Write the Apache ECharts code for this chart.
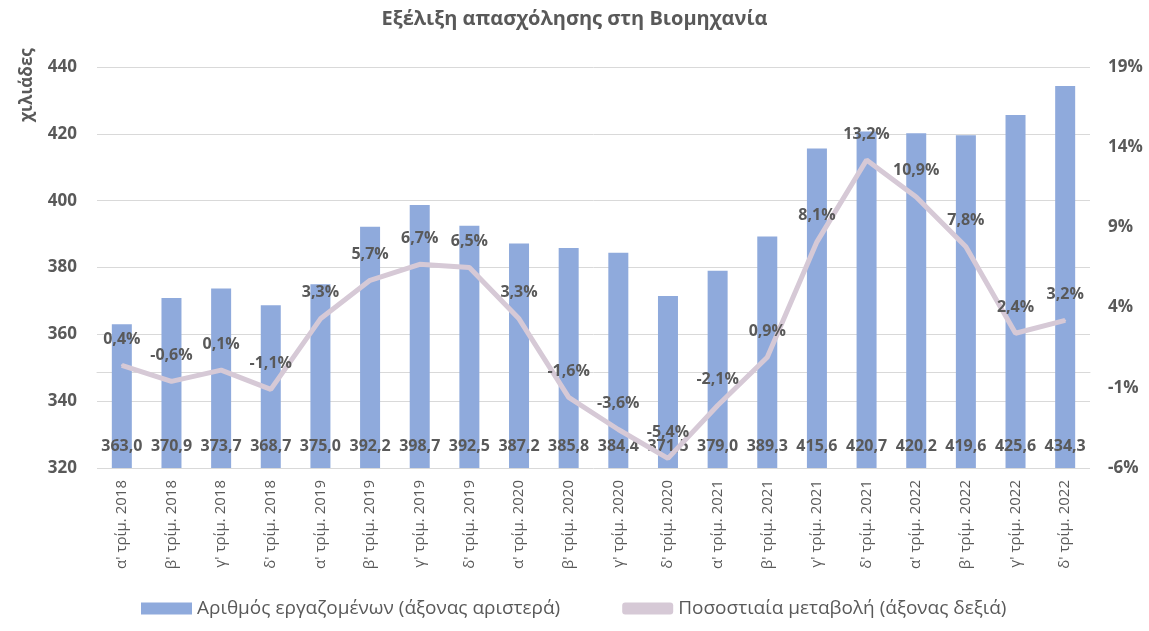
<!DOCTYPE html>
<html><head><meta charset="utf-8">
<script src="https://cdn.jsdelivr.net/npm/echarts@6/dist/echarts.min.js"></script>
<style>html,body{margin:0;padding:0;background:#fff}#c{width:1149px;height:631px}</style>
</head><body><div id="c"></div>
<script>
const categories = ["α' τρίμ. 2018","β' τρίμ. 2018","γ' τρίμ. 2018","δ' τρίμ. 2018","α' τρίμ. 2019","β' τρίμ. 2019","γ' τρίμ. 2019","δ' τρίμ. 2019","α' τρίμ. 2020","β' τρίμ. 2020","γ' τρίμ. 2020","δ' τρίμ. 2020","α' τρίμ. 2021","β' τρίμ. 2021","γ' τρίμ. 2021","δ' τρίμ. 2021","α' τρίμ. 2022","β' τρίμ. 2022","γ' τρίμ. 2022","δ' τρίμ. 2022"];
const employed = [363.0,370.9,373.7,368.7,375.0,392.2,398.7,392.5,387.2,385.8,384.4,371.5,379.0,389.3,415.6,420.7,420.2,419.6,425.6,434.3];
const changePct = [0.4,-0.6,0.1,-1.1,3.3,5.7,6.7,6.5,3.3,-1.6,-3.6,-5.4,-2.1,0.9,8.1,13.2,10.9,7.8,2.4,3.2];
const seriesNames = ["Αριθμός εργαζομένων (άξονας αριστερά)","Ποσοστιαία μεταβολή (άξονας δεξιά)"];
const titleText = "Εξέλιξη απασχόλησης στη Βιομηχανία";
const leftAxisName = "χιλιάδες";

const txt = '#595959';
const lineColor = '#d6c9d6';
const font = "'Open Sans', 'Noto Sans', sans-serif";
const fmt = v => v.toFixed(1).replace('.', ',');
const chart = echarts.init(document.getElementById('c'));
chart.setOption({
  animation: false,
  textStyle: {fontFamily: font, color: txt},
  title: {text: titleText, left: 'center', top: 4, textStyle: {fontFamily: font, fontSize: 20, fontWeight: 'bold', color: txt}},
  graphic: [{type: 'text', x: 19, y: 122, rotation: Math.PI / 2,
    style: {text: leftAxisName, fill: txt, font: "bold 17px 'Open Sans', sans-serif", textVerticalAlign: 'top'}}],
  legend: {bottom: 8, left: 136, itemGap: 62, itemWidth: 51, itemHeight: 12,
    textStyle: {fontFamily: font, fontSize: 19, color: txt},
    data: [{name: seriesNames[0], icon: 'rect'}, {name: seriesNames[1], icon: 'roundRect', itemStyle: {color: lineColor}}]},
  grid: {left: 97, right: 59, top: 67, bottom: 163},
  xAxis: {type: 'category', data: categories,
    axisLine: {lineStyle: {color: '#d9d9d9', width: 1}}, axisTick: {show: false},
    axisLabel: {rotate: 90, fontSize: 15, color: txt, fontFamily: font, interval: 0, margin: 12}},
  yAxis: [
    {type: 'value', min: 320, max: 440, interval: 20,
      axisLabel: {fontSize: 17, fontWeight: 'bold', color: txt, margin: 20},
      splitLine: {lineStyle: {color: '#d9d9d9', width: 1}}, axisLine: {show: false}, axisTick: {show: false}},
    {type: 'value', min: -6, max: 19, interval: 5,
      axisLabel: {fontSize: 17, fontWeight: 'bold', color: txt, margin: 18, formatter: v => v + '%'},
      splitLine: {show: false}, axisLine: {show: false}, axisTick: {show: false}}
  ],
  series: [
    {name: seriesNames[0], type: 'bar', data: employed, barWidth: 20, itemStyle: {color: '#8faadc'},
      label: {show: true, position: 'insideBottom', distance: 14, color: txt, fontSize: 16, fontWeight: 'bold', fontFamily: font,
        formatter: p => fmt(p.value)}},
    {name: seriesNames[1], type: 'line', yAxisIndex: 1, data: changePct, symbol: 'circle', symbolSize: 2, showSymbol: true,
      lineStyle: {color: lineColor, width: 5}, itemStyle: {color: lineColor},
      label: {show: true, position: 'top', distance: 17, color: txt, fontSize: 16, fontWeight: 'bold', fontFamily: font,
        formatter: p => fmt(p.value) + '%'}}
  ]
});
</script></body></html>
